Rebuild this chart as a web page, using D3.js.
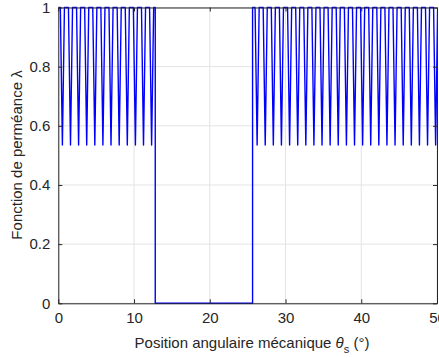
<!DOCTYPE html>
<html><head><meta charset="utf-8">
<script src="https://cdn.jsdelivr.net/npm/d3@7"></script>
<style>body{margin:0;background:#fff}svg{display:block}text{font-family:"Liberation Sans",Arial,sans-serif;fill:#262626}</style>
</head><body><svg id="c" width="439" height="358"></svg>
<script>
// data (degrees)
const xTicks = [0, 10, 20, 30, 40, 50];
const yTicks = [0, 0.2, 0.4, 0.6, 0.8, 1];
const slotCenters = [0.54, 1.61, 2.68, 3.75, 4.82, 5.89, 6.96, 8.04, 9.11, 10.18, 11.25, 12.32,
  26.25, 27.32, 28.39, 29.46, 30.54, 31.61, 32.68, 33.75, 34.82, 35.89, 36.96, 38.04, 39.11,
  40.18, 41.25, 42.32, 43.39, 44.46, 45.54, 46.61, 47.68, 48.75, 49.82];
const slotMin = [0.535];
const slotHalfWidth = [0.27];
const gapStart = [12.8];
const gapEnd = [25.65];
const levelHigh = [1];
const levelGap = [0];

const svg = d3.select("#c");
const m = {l: 58.3, r: 437, t: 7.5, b: 303.3};
const x = d3.scaleLinear().domain([0, 50]).range([m.l, m.r]);
const y = d3.scaleLinear().domain([0, 1]).range([m.b, m.t]);

// grid
svg.append("g").selectAll("line").data(xTicks).join("line")
  .attr("x1", d => x(d)).attr("x2", d => x(d)).attr("y1", m.t).attr("y2", m.b)
  .attr("stroke", "#e3e3e3").attr("stroke-width", 1);
svg.append("g").selectAll("line").data(yTicks).join("line")
  .attr("y1", d => y(d)).attr("y2", d => y(d)).attr("x1", m.l).attr("x2", m.r)
  .attr("stroke", "#e3e3e3").attr("stroke-width", 1);

// build series points
const pts = [];
const hi = levelHigh[0], w = slotHalfWidth[0], mn = slotMin[0];
pts.push([0, hi]);
const first = slotCenters.filter(c => c < gapStart[0]);
const second = slotCenters.filter(c => c > gapEnd[0]);
first.forEach(c => { pts.push([c - w, hi], [c, mn], [c + w, hi]); });
pts.push([gapStart[0], hi], [gapStart[0], levelGap[0]], [gapEnd[0], levelGap[0]], [gapEnd[0], hi]);
second.forEach(c => { pts.push([c - w, hi], [c, mn], [c + w, hi]); });

svg.append("clipPath").attr("id", "clip").append("rect")
  .attr("x", m.l).attr("y", m.t - 2).attr("width", m.r - m.l).attr("height", m.b - m.t + 4);
svg.append("path").datum(pts)
  .attr("clip-path", "url(#clip)")
  .attr("d", d3.line().x(d => x(d[0])).y(d => y(d[1])))
  .attr("fill", "none").attr("stroke", "#0000ff").attr("stroke-width", 1.4)
  .attr("stroke-linejoin", "round");

// axes
const ax = "#262626";
const axB = svg.append("g").attr("transform", `translate(0,${m.b})`)
  .call(d3.axisBottom(x).tickValues(xTicks).tickSizeInner(-4).tickSizeOuter(0).tickPadding(9).tickFormat(d3.format("d")));
const axL = svg.append("g").attr("transform", `translate(${m.l},0)`)
  .call(d3.axisLeft(y).tickValues(yTicks).tickSizeInner(-4).tickSizeOuter(0).tickPadding(8).tickFormat(d => d === 0 || d === 1 ? d : d3.format(".1f")(d)));
const axT = svg.append("g").attr("transform", `translate(0,${m.t})`)
  .call(d3.axisTop(x).tickValues(xTicks).tickSizeInner(-4).tickSizeOuter(0).tickFormat(""));
const axR = svg.append("g").attr("transform", `translate(${m.r},0)`)
  .call(d3.axisRight(y).tickValues(yTicks).tickSizeInner(-4).tickSizeOuter(0).tickFormat(""));
[axB, axL, axT, axR].forEach(g => {
  g.selectAll("path").attr("stroke", ax).attr("stroke-width", 1);
  g.selectAll("line").attr("stroke", ax);
  g.selectAll("text").attr("font-size", 15).attr("fill", ax).attr("font-family", '"Liberation Sans",Arial,sans-serif');
});

// axis titles
const xt = svg.append("text").attr("x", 252).attr("y", 348).attr("text-anchor", "middle").attr("font-size", 15);
xt.append("tspan").text("Position angulaire mécanique ");
xt.append("tspan").attr("font-style", "italic").text("θ");
xt.append("tspan").attr("dy", 5).attr("font-size", 11).text("s");
xt.append("tspan").attr("dy", -5).text(" (°)");

svg.append("text").attr("transform", "translate(22,155) rotate(-90)")
  .attr("text-anchor", "middle").attr("font-size", 15).text("Fonction de perméance λ");
</script></body></html>
